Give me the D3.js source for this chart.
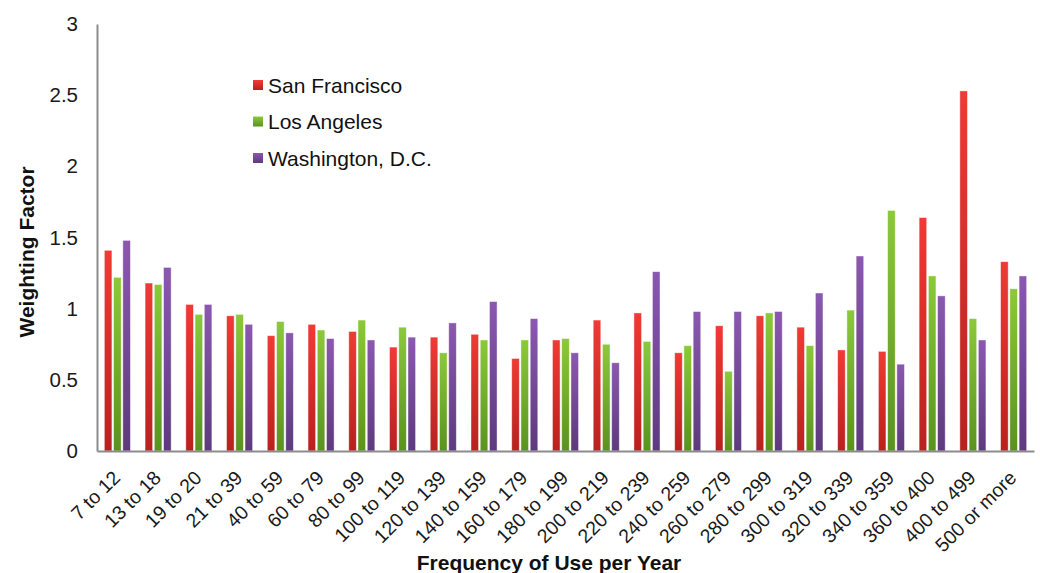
<!DOCTYPE html>
<html>
<head>
<meta charset="utf-8">
<script src="https://cdn.jsdelivr.net/npm/d3@7"></script>
<style>
  html, body { margin: 0; padding: 0; background: #fff; }
  svg { display: block; font-family: "Liberation Sans", Arial, sans-serif; }
</style>
</head>
<body>
<svg id="chart" width="1040" height="573"></svg>
<script>
const categories = ["7 to 12","13 to 18","19 to 20","21 to 39","40 to 59","60 to 79","80 to 99","100 to 119","120 to 139","140 to 159","160 to 179","180 to 199","200 to 219","220 to 239","240 to 259","260 to 279","280 to 299","300 to 319","320 to 339","340 to 359","360 to 400","400 to 499","500 or more"];
const seriesNames = ["San Francisco","Los Angeles","Washington, D.C."];
const sanFrancisco = [1.41,1.18,1.03,0.95,0.81,0.89,0.84,0.73,0.80,0.82,0.65,0.78,0.92,0.97,0.69,0.88,0.95,0.87,0.71,0.70,1.64,2.53,1.33];
const losAngeles   = [1.22,1.17,0.96,0.96,0.91,0.85,0.92,0.87,0.69,0.78,0.78,0.79,0.75,0.77,0.74,0.56,0.97,0.74,0.99,1.69,1.23,0.93,1.14];
const washingtonDC = [1.48,1.29,1.03,0.89,0.83,0.79,0.78,0.80,0.90,1.05,0.93,0.69,0.62,1.26,0.98,0.98,0.98,1.11,1.37,0.61,1.09,0.78,1.23];
const yTicks = [0,0.5,1,1.5,2,2.5,3];
const yTickLabels = ["0","0.5","1","1.5","2","2.5","3"];

const seriesValues = [sanFrancisco, losAngeles, washingtonDC];
const colorsTop = ["#f03a35","#8bc93a","#8b58b0"];
const colorsBottom = ["#b8211e","#5a921f","#5d3a7d"];

const svg = d3.select("#chart");
const plotLeft = 97, plotRight = 1034, plotTop = 24, plotBottom = 451;

const x0 = d3.scaleBand().domain(categories).range([plotLeft, plotRight]).paddingInner(0.36).paddingOuter(0.18);
const x1 = d3.scaleBand().domain(seriesNames).range([0, x0.bandwidth()]).paddingInner(0.18);
const y = d3.scaleLinear().domain([0, 3]).range([plotBottom, plotTop]);

const defs = svg.append("defs");
seriesNames.forEach((s, i) => {
  const g = defs.append("linearGradient").attr("id", "grad" + i)
    .attr("x1", 0).attr("y1", 0).attr("x2", 0).attr("y2", 1);
  g.append("stop").attr("offset", "0%").attr("stop-color", colorsTop[i]);
  g.append("stop").attr("offset", "100%").attr("stop-color", colorsBottom[i]);
});

// bars
const groups = svg.append("g").selectAll("g").data(categories).join("g")
  .attr("transform", d => `translate(${x0(d)},0)`);
groups.selectAll("rect")
  .data((d, ci) => seriesNames.map((s, si) => ({ s, si, v: seriesValues[si][ci] })))
  .join("rect")
  .attr("x", d => x1(d.s))
  .attr("y", d => y(d.v))
  .attr("width", x1.bandwidth())
  .attr("height", d => y(0) - y(d.v))
  .attr("fill", d => `url(#grad${d.si})`)
  .attr("stroke", "rgba(255,255,255,0.55)")
  .attr("stroke-width", 0.8);

// y axis
const yAxis = d3.axisLeft(y).tickValues(yTicks)
  .tickFormat((d, i) => yTickLabels[i]).tickSize(0).tickPadding(19);
const gy = svg.append("g").attr("transform", `translate(${plotLeft},0)`).call(yAxis);
gy.select(".domain").attr("stroke", "#8c8c8c").attr("stroke-width", 2);
gy.selectAll("text").attr("font-size", 20.5).attr("fill", "#1a1a1a")
  .attr("font-family", "Liberation Sans, Arial, sans-serif");

// x axis
const xAxis = d3.axisBottom(x0).tickSize(0).tickFormat(() => "");
const gx = svg.append("g").attr("transform", `translate(0,${plotBottom})`).call(xAxis);
gx.select(".domain").attr("stroke", "#8c8c8c").attr("stroke-width", 2);

// rotated x labels
svg.append("g").selectAll("text").data(categories).join("text")
  .attr("transform", d => `translate(${x0(d) + x0.bandwidth() / 2 + 4},${plotBottom + 28}) rotate(-45)`)
  .attr("text-anchor", "end")
  .attr("font-size", 19.5)
  .attr("fill", "#1a1a1a")
  .text(d => d);

// axis titles
svg.append("text")
  .attr("x", 549).attr("y", 570)
  .attr("text-anchor", "middle")
  .attr("font-size", 21).attr("font-weight", "bold").attr("fill", "#111")
  .text("Frequency of Use per Year");
svg.append("text")
  .attr("transform", "translate(34,252) rotate(-90)")
  .attr("text-anchor", "middle")
  .attr("font-size", 21).attr("font-weight", "bold").attr("fill", "#111")
  .text("Weighting Factor");

// legend
const legendY = d3.scalePoint().domain(seriesNames).range([85, 158]);
const lg = svg.append("g").selectAll("g").data(seriesNames).join("g")
  .attr("transform", d => `translate(253,${legendY(d)})`);
lg.append("rect").attr("x", 0).attr("y", -5).attr("width", 10).attr("height", 10)
  .attr("fill", (d, i) => `url(#grad${i})`);
lg.append("text").attr("x", 15).attr("y", 0).attr("dy", "0.36em")
  .attr("font-size", 21).attr("fill", "#111").text(d => d);
</script>
</body>
</html>
